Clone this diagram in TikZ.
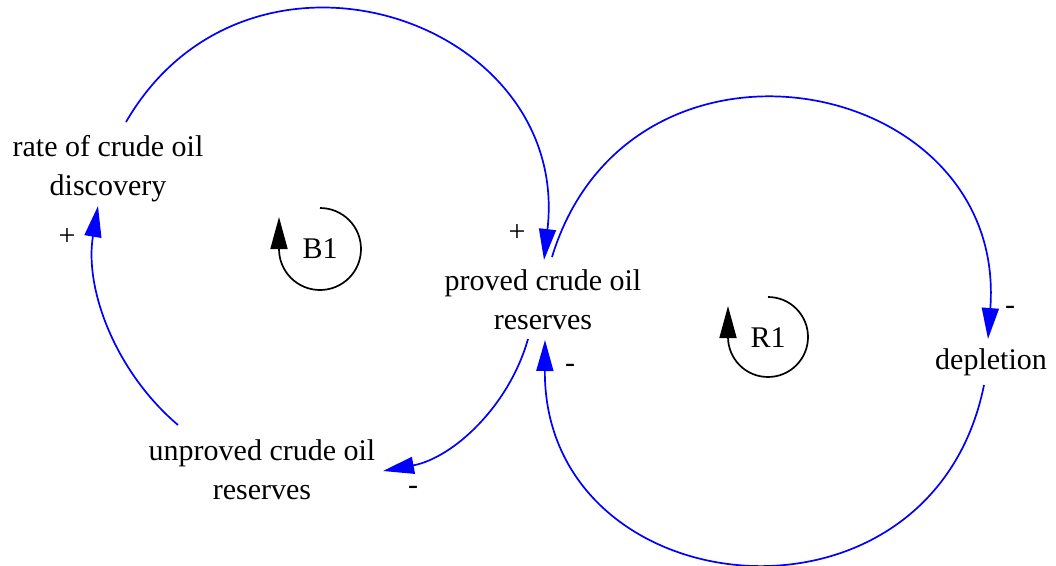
\documentclass[tikz,border=0pt]{standalone}
\usepackage{fontspec}
\setmainfont{Liberation Serif}
\usetikzlibrary{arrows.meta}

\begin{document}
\begin{tikzpicture}[
  x=1pt, y=1pt,
  % ---- styles ----
  var/.style = {
    align=center,
    font=\fontsize{30}{39}\selectfont,
    inner sep=0pt
  },
  polarity/.style = {font=\fontsize{30}{36}\selectfont, inner sep=0pt},
  link/.style = {-{Triangle[length=31pt, width=17pt]}, blue, line width=1.7pt},
  loopsym/.style = {-{Triangle[length=32pt, width=17pt]}, black, line width=1.7pt},
  looplabel/.style = {font=\fontsize{30}{36}\selectfont, inner sep=0pt}
]
\useasboundingbox (0,0) rectangle (1056,-565);

% ============ VARIABLES ============

\node[var] (discovery) at (108,-169) {rate of crude oil\\discovery};
\node[var] (proved)    at (543,-300) {proved crude oil\\reserves};
\node[var] (unproved)  at (262,-470) {unproved crude oil\\reserves};
\node[var] (depletion) at (991,-362) {depletion};

% --- link end points ---
\coordinate (disc-top)   at (126,-122);
\coordinate (prov-in1)   at (544,-260);
\coordinate (prov-out1)  at (552,-257);
\coordinate (depl-in)    at (988,-339);
\coordinate (depl-out)   at (984,-385);
\coordinate (prov-in2)   at (545,-340);
\coordinate (prov-out2)  at (528,-339);
\coordinate (unpr-in)    at (383,-471);
\coordinate (unpr-out)   at (178,-425);
\coordinate (disc-in)    at (98,-206);

% ============ LINKS ============

% discovery --> proved reserves
\draw[link] (disc-top) .. controls (248.3,88.9) and (571.6,-17.8) .. (prov-in1);
\node[polarity] at (517,-233) {+};

% proved reserves --> depletion
\draw[link] (prov-out1) .. controls (629.8,-2.4) and (1008,-73.5) .. (depl-in);
\node[polarity] at (1010,-310) {-};

% depletion --> proved reserves
\draw[link] (depl-out) .. controls (931,-648) and (543.6,-608.3) .. (prov-in2);
\node[polarity] at (570,-368) {-};

% proved reserves --> unproved reserves
\draw[link] (prov-out2) .. controls (508.8,-406.9) and (452.4,-458.1) .. (unpr-in);
\node[polarity] at (413,-490) {-};

% unproved reserves --> discovery
\draw[link] (unpr-out) .. controls (114.7,-371.1) and (84.3,-288) .. (disc-in);
\node[polarity] at (67,-237) {+};

% ============ LOOPS ============

\node[looplabel] (B1) at (320,-249) {B1};
\draw[loopsym] ([yshift=41pt]B1.center) arc[start angle=90, end angle=-180, radius=41] -- ++(0,32);

\node[looplabel] (R1) at (768,-338) {R1};
\draw[loopsym] ([yshift=41pt]R1.center) arc[start angle=90, end angle=-180, radius=40] -- ++(0,31);

\end{tikzpicture}
\end{document}
